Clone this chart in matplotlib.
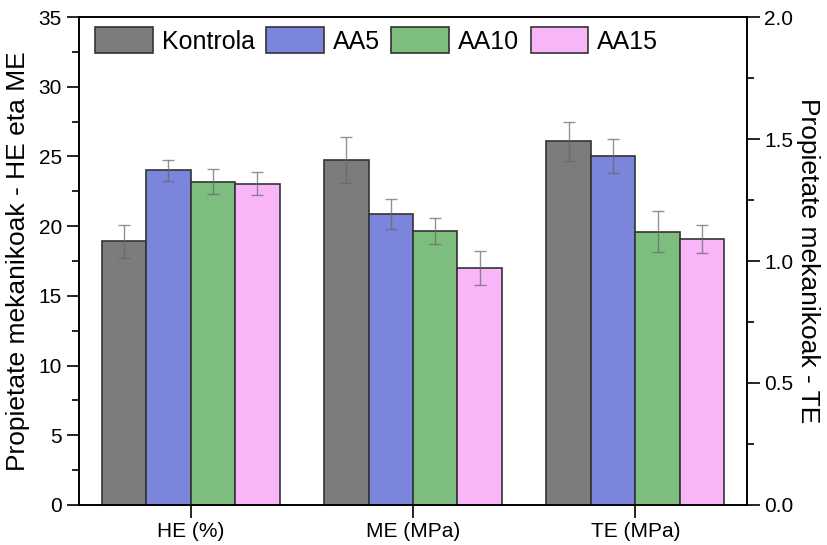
import numpy as np
import matplotlib
matplotlib.use("Agg")
import matplotlib.pyplot as plt

plt.rcParams["font.family"] = ["Liberation Sans", "DejaVu Sans"]
plt.rcParams["font.size"] = 15

categories = ["HE (%)", "ME (MPa)", "TE (MPa)"]
seriesNames = ["Kontrola", "AA5", "AA10", "AA15"]
seriesColors = ["#7c7c7c", "#7b85db", "#7dbd7d", "#f8b6f8"]

# HE and ME on left axis, TE on right axis
kontrola = [18.9, 24.75, 1.49]
aa5 = [24.0, 20.85, 1.43]
aa10 = [23.2, 19.65, 1.12]
aa15 = [23.05, 17.0, 1.09]
kontrolaErr = [1.2, 1.65, 0.08]
aa5Err = [0.75, 1.07, 0.07]
aa10Err = [0.93, 0.93, 0.085]
aa15Err = [0.8, 1.22, 0.057]

values = [kontrola, aa5, aa10, aa15]
errors = [kontrolaErr, aa5Err, aa10Err, aa15Err]

fig = plt.figure(figsize=(8.27, 5.45), dpi=100)
ax = fig.add_axes([0.0959, 0.0734, 0.8070, 0.8954])
ax2 = ax.twinx()

x = np.arange(1, len(categories) + 1)
width = 0.2
offsets = [-0.3, -0.1, 0.1, 0.3]
errStyle = dict(ecolor="#666666", elinewidth=1.0, capsize=4, capthick=1.0, alpha=0.7)

handles = []
for i in range(len(seriesNames)):
    v = values[i]
    e = errors[i]
    b = ax.bar(x[:2] + offsets[i], v[:2], width, color=seriesColors[i],
               edgecolor="#333333", linewidth=1.2, label=seriesNames[i], zorder=2)
    ax.errorbar(x[:2] + offsets[i], v[:2], yerr=e[:2], fmt="none", zorder=3, **errStyle)
    ax2.bar(x[2] + offsets[i], v[2], width, color=seriesColors[i],
            edgecolor="#333333", linewidth=1.2, zorder=2)
    ax2.errorbar(x[2] + offsets[i], v[2], yerr=e[2], fmt="none", zorder=3, **errStyle)
    handles.append(b)

ax.set_xlim(0.5, 3.5)
ax.set_ylim(0, 35)
ax2.set_ylim(0, 2.0)
ax.set_xticks(x)
ax.set_xticklabels(categories)
ax.set_yticks(np.arange(0, 36, 5))
ax.set_yticks(np.arange(2.5, 35, 5), minor=True)
ax2.set_yticks(np.arange(0, 2.01, 0.5))
ax2.set_yticks(np.arange(0.25, 2.0, 0.5), minor=True)
ax2.set_yticklabels(["0.0", "0.5", "1.0", "1.5", "2.0"])

ax.tick_params(axis="both", which="major", direction="out", length=9, width=1.2, labelsize=15)
ax.tick_params(axis="y", which="minor", direction="out", length=5, width=1.2)
ax2.tick_params(axis="y", which="major", direction="out", length=9, width=1.2, labelsize=15)
ax2.tick_params(axis="y", which="minor", direction="out", length=5, width=1.2)
for a in (ax, ax2):
    for s in a.spines.values():
        s.set_linewidth(1.2)

ax.set_ylabel("Propietate mekanikoak - HE eta ME", fontsize=19, labelpad=6)
ax2.set_ylabel("Propietate mekanikoak - TE", fontsize=19, rotation=270, labelpad=19)

ax.legend(handles=handles, loc="upper left", ncol=4, frameon=False, fontsize=18,
          handlelength=2.3, handleheight=1.25, handletextpad=0.37, columnspacing=0.45,
          bbox_to_anchor=(0.024, 0.9795), borderaxespad=0.0, borderpad=0.0)

plt.savefig("out.png", dpi=100)
